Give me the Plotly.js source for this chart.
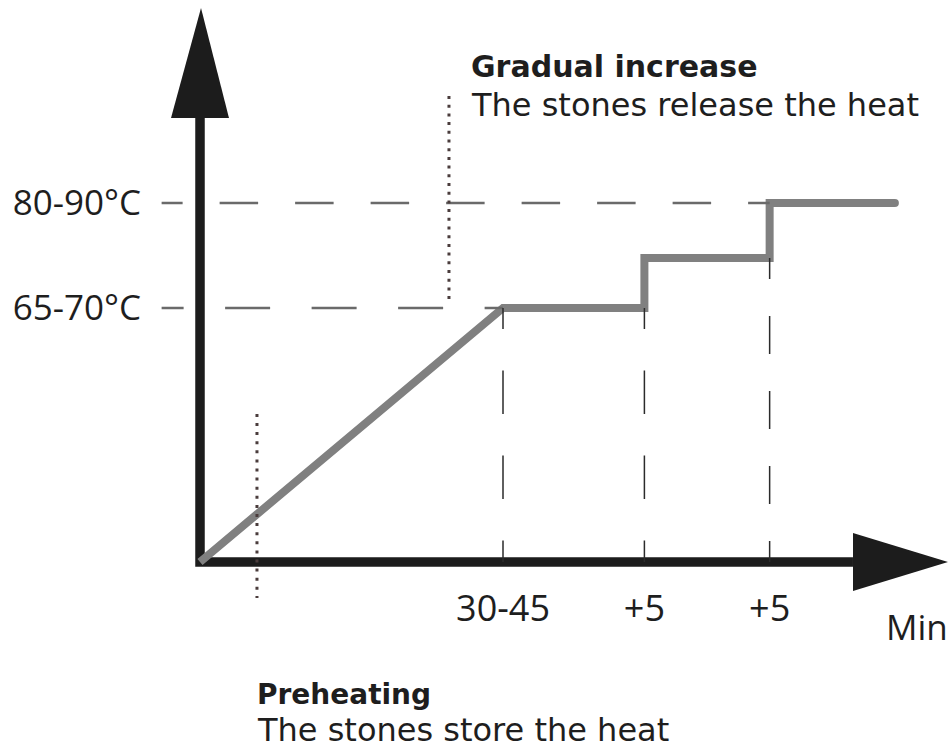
<!DOCTYPE html>
<html>
<head>
<meta charset="utf-8">
<script src="https://cdn.plot.ly/plotly-3.0.1.min.js"></script>
<style>html,body{margin:0;padding:0;background:#fff;}#chart{width:949px;height:753px;}</style>
</head>
<body>
<div id="chart"></div>
<script>
// ---- data ----
const stageLabels = ['30-45', '+5', '+5'];
const stageX = [30, 44, 56.4];
const tempLabels = ['65-70°C', '80-90°C'];
const tempY = [65, 91.9];
const curveX = [0, 30, 44, 44, 56.4, 56.4, 68.8];
const curveY = [0, 65, 65, 77.8, 77.8, 91.9, 91.9];

// ---- layout constants (axis units) ----
const XR = [-19.802, 74.158];
const YR = [-48.88, 143.82];
const W = 949, H = 753;
const AX = '#1c1c1c';

function dashList(first, gap, dash, total) {
  const a = [first]; let len = first;
  while (len < total) { a.push(gap, dash); len += gap + dash; }
  return a.map(v => v + 'px').join(',');
}
function line(x, y, color, width, dash) {
  return {x, y, type: 'scatter', mode: 'lines', hoverinfo: 'skip', showlegend: false,
          line: {color, width, dash: dash || 'solid'}};
}

const yTop = 113.6, xEnd = 64.65;
const traces = [];
// axes
traces.push(line([0, 0, xEnd], [yTop, 0, 0], AX, 9.5));
// arrowheads
traces.push({x: [-2.87, 2.87, 0.1, -2.87], y: [yTop, yTop, 141.8, yTop], type: 'scatter', mode: 'lines',
  fill: 'toself', fillcolor: AX, line: {width: 0, color: AX}, hoverinfo: 'skip', showlegend: false});
traces.push({x: [xEnd, xEnd, 74.06, xEnd], y: [7.42, -7.42, 0, 7.42], type: 'scatter', mode: 'lines',
  fill: 'toself', fillcolor: AX, line: {width: 0, color: AX}, hoverinfo: 'skip', showlegend: false});
// temperature curve
traces.push(line(curveX, curveY, '#808080', 8));
traces.push({x: [curveX[curveX.length - 1]], y: [curveY[curveY.length - 1]], type: 'scatter', mode: 'markers',
  marker: {color: '#808080', size: 8}, hoverinfo: 'skip', showlegend: false});
// horizontal dashed guides
const hStart = -3.8;
traces.push(line([hStart, stageX[2]], [tempY[1], tempY[1]], '#6a6a6a', 2.5, dashList(21, 37, 38.5, 620)));
traces.push(line([hStart, stageX[0]], [tempY[0], tempY[0]], '#6a6a6a', 2.5, dashList(22, 41.5, 45, 360)));
// vertical dashed guides
traces.push(line([stageX[0], stageX[0]], [curveY[1], 0], '#2b2b2b', 1.5, dashList(21, 41.5, 43.5, 260)));
traces.push(line([stageX[1], stageX[1]], [curveY[2], 0], '#2b2b2b', 1.5, dashList(21, 41.5, 43.5, 260)));
traces.push(line([stageX[2], stageX[2]], [curveY[4], 0], '#2b2b2b', 1.5, dashList(21, 37, 38, 310)));
// dotted phase markers
traces.push(line([24.65, 24.65], [119.25, 65.8], '#4a3c3c', 3, '3px,5.7px'));
traces.push(line([5.64, 5.64], [37.9, -9.2], '#4a3c3c', 3, '3px,6.1px'));

function pxX(p) { return p / W; }
function pxY(p) { return 1 - p / H; }
const TXT = '#1e1e1e';
const annotations = [
  {text: 'Gradual increase', x: pxX(469), y: pxY(66), font: {family: 'DejaVu Sans', size: 30, weight: 'bold', color: TXT}},
  {text: 'The stones release the heat', x: pxX(469), y: pxY(105.5), font: {family: 'DejaVu Sans', size: 32, color: TXT}},
  {text: 'Preheating', x: pxX(255), y: pxY(694), font: {family: 'DejaVu Sans', size: 28, weight: 'bold', color: TXT}},
  {text: 'The stones store the heat', x: pxX(255), y: pxY(730), font: {family: 'DejaVu Sans', size: 32, color: TXT}},
  {text: 'Min', x: pxX(884), y: pxY(626), font: {family: 'Open Sans', size: 35, color: TXT}}
].map(a => Object.assign({xref: 'paper', yref: 'paper', xanchor: 'left', yanchor: 'middle', showarrow: false}, a));

const layout = {
  width: W, height: H,
  margin: {l: 0, r: 0, t: 0, b: 0, pad: 0},
  paper_bgcolor: '#fff', plot_bgcolor: '#fff',
  showlegend: false, hovermode: false,
  xaxis: {range: XR, anchor: 'free', position: (0 - YR[0]) / (YR[1] - YR[0]),
    showgrid: false, zeroline: false, showline: false, ticks: '',
    tickmode: 'array', tickvals: stageX, ticktext: stageLabels,
    tickfont: {family: 'Open Sans', size: 36, color: TXT}, ticklabelstandoff: 22},
  yaxis: {range: YR, anchor: 'free', position: (0 - XR[0]) / (XR[1] - XR[0]),
    showgrid: false, zeroline: false, showline: false, ticks: '',
    tickmode: 'array', tickvals: tempY, ticktext: tempLabels,
    tickfont: {family: 'Open Sans', size: 35, color: TXT}, ticklabelstandoff: 59},
  annotations
};
Plotly.newPlot('chart', traces, layout, {staticPlot: true, displayModeBar: false});
</script>
</body>
</html>
